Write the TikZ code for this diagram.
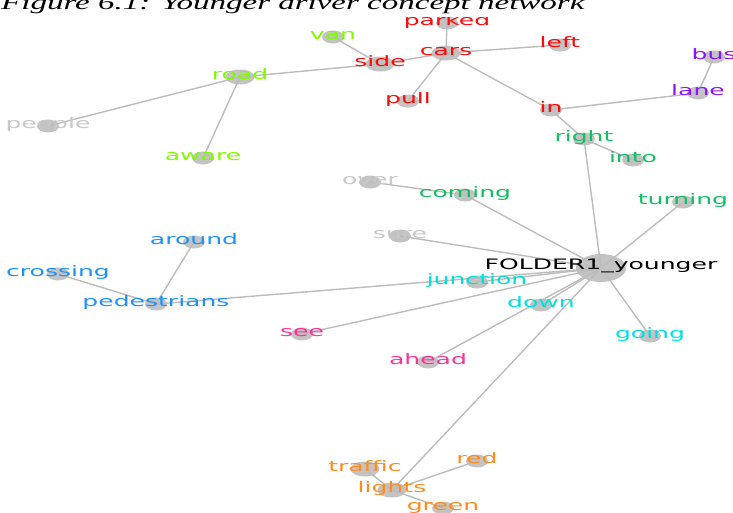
\documentclass[tikz,border=0pt]{standalone}
\usepackage{fontspec}
\usetikzlibrary{shapes.geometric}
\newfontfamily\lblfont[FakeStretch=1.74]{DejaVu Sans}
\newfontfamily\titlefont[FakeStretch=1.65]{Liberation Serif}
\definecolor{netred}{RGB}{255,10,10}
\definecolor{netlime}{RGB}{128,250,0}
\definecolor{netviolet}{RGB}{140,20,255}
\definecolor{netgreen}{RGB}{20,190,100}
\definecolor{netgrey}{RGB}{200,200,200}
\definecolor{netblue}{RGB}{30,144,255}
\definecolor{netcyan}{RGB}{0,225,220}
\definecolor{netpink}{RGB}{255,50,150}
\definecolor{netorange}{RGB}{255,140,30}
\definecolor{dotfill}{RGB}{185,185,185}
\definecolor{edgecol}{RGB}{188,188,188}
\tikzset{
  dot/.style={ellipse, fill=dotfill, fill opacity=0.85, minimum width=22pt, minimum height=13pt, inner sep=0pt},
  bigdot/.style={dot, minimum width=29pt, minimum height=15pt},
  hub/.style={dot, minimum width=50pt, minimum height=28pt},
  edge/.style={draw=edgecol, line width=1.4pt},
  lbl/.style={font=\lblfont\fontsize{14.4}{14}\selectfont, anchor=base, yshift=-2pt, inner sep=0pt}
}
\begin{document}
\begin{tikzpicture}[x=1pt, y=-1pt]
    \useasboundingbox (0,0) rectangle (733,512);
    % punti
    \node[hub] (younger) at (601,268) {};
    \node[bigdot] (cars) at (446,53) {};
    \node[dot] (parked) at (447,23) {};
    \node[dot] (left) at (560,45) {};
    \node[bigdot] (side) at (380,64) {};
    \node[dot] (van) at (333,37) {};
    \node[dot] (pull) at (408,101) {};
    \node[bigdot] (road) at (240,77) {};
    \node[dot] (people) at (48,126) {};
    \node[dot] (aware) at (203,158) {};
    \node[dot] (in) at (551,110) {};
    \node[dot] (lane) at (698,93) {};
    \node[dot] (bus) at (714,57) {};
    \node[dot] (right) at (584,139) {};
    \node[dot] (into) at (633,160) {};
    \node[dot] (over) at (370,182) {};
    \node[dot] (coming) at (465,195) {};
    \node[dot] (turning) at (683,202) {};
    \node[dot] (sure) at (400,236) {};
    \node[dot] (around) at (194,242) {};
    \node[dot] (crossing) at (58,274) {};
    \node[dot] (pedestrians) at (156,304) {};
    \node[dot] (junction) at (477,282) {};
    \node[dot] (see) at (302,334) {};
    \node[dot] (down) at (541,305) {};
    \node[dot] (going) at (650,336) {};
    \node[dot] (ahead) at (428,362) {};
    \node[bigdot] (traffic) at (365,469) {};
    \node[dot] (red) at (477,461) {};
    \node[bigdot] (lights) at (392,490) {};
    \node[dot] (green) at (443,508) {};
    % archi
    \draw[edge] (parked.center) -- (cars.center);
    \draw[edge] (cars.center) -- (left.center);
    \draw[edge] (cars.center) -- (side.center);
    \draw[edge] (cars.center) -- (pull.center);
    \draw[edge] (cars.center) -- (in.center);
    \draw[edge] (side.center) -- (van.center);
    \draw[edge] (side.center) -- (road.center);
    \draw[edge] (road.center) -- (people.center);
    \draw[edge] (road.center) -- (aware.center);
    \draw[edge] (in.center) -- (lane.center);
    \draw[edge] (lane.center) -- (bus.center);
    \draw[edge] (in.center) -- (right.center);
    \draw[edge] (right.center) -- (into.center);
    \draw[edge] (right.center) -- (younger.center);
    \draw[edge] (over.center) -- (coming.center);
    \draw[edge] (coming.center) -- (younger.center);
    \draw[edge] (turning.center) -- (younger.center);
    \draw[edge] (sure.center) -- (younger.center);
    \draw[edge] (pedestrians.center) -- (younger.center);
    \draw[edge] (pedestrians.center) -- (around.center);
    \draw[edge] (pedestrians.center) -- (crossing.center);
    \draw[edge] (junction.center) -- (younger.center);
    \draw[edge] (see.center) -- (younger.center);
    \draw[edge] (down.center) -- (younger.center);
    \draw[edge] (going.center) -- (younger.center);
    \draw[edge] (ahead.center) -- (younger.center);
    \draw[edge] (lights.center) -- (younger.center);
    \draw[edge] (lights.center) -- (traffic.center);
    \draw[edge] (lights.center) -- (red.center);
    \draw[edge] (lights.center) -- (green.center);
    % etichette
    \node[lbl, yshift=1pt] at (younger) {FOLDER1\_younger};
    \node[lbl, text=netred] at (cars) {cars};
    \node[lbl, text=netred] at (parked) {parked};
    \node[lbl, text=netred] at (left) {left};
    \node[lbl, text=netred] at (side) {side};
    \node[lbl, text=netred] at (pull) {pull};
    \node[lbl, text=netred] at (in) {in};
    \node[lbl, text=netlime] at (van) {van};
    \node[lbl, text=netlime] at (road) {road};
    \node[lbl, text=netlime] at (aware) {aware};
    \node[lbl, text=netgrey] at (people) {people};
    \node[lbl, text=netgrey] at (over) {over};
    \node[lbl, text=netgrey] at (sure) {sure};
    \node[lbl, text=netviolet] at (lane) {lane};
    \node[lbl, text=netviolet] at (bus) {bus};
    \node[lbl, text=netgreen] at (right) {right};
    \node[lbl, text=netgreen] at (into) {into};
    \node[lbl, text=netgreen] at (coming) {coming};
    \node[lbl, text=netgreen] at (turning) {turning};
    \node[lbl, text=netblue] at (around) {around};
    \node[lbl, text=netblue] at (crossing) {crossing};
    \node[lbl, text=netblue] at (pedestrians) {pedestrians};
    \node[lbl, text=netcyan] at (junction) {junction};
    \node[lbl, text=netcyan] at (down) {down};
    \node[lbl, text=netcyan] at (going) {going};
    \node[lbl, text=netpink] at (see) {see};
    \node[lbl, text=netpink] at (ahead) {ahead};
    \node[lbl, text=netorange] at (traffic) {traffic};
    \node[lbl, text=netorange] at (red) {red};
    \node[lbl, text=netorange] at (lights) {lights};
    \node[lbl, text=netorange] at (green) {green};
    % titolo
    \node[anchor=base west, fill=white, inner xsep=0pt, inner ysep=4pt, font=\titlefont\itshape\fontsize{20}{20}\selectfont] (title) at (1,9) {Figure 6.1: Younger driver concept network};
\end{tikzpicture}
\end{document}
